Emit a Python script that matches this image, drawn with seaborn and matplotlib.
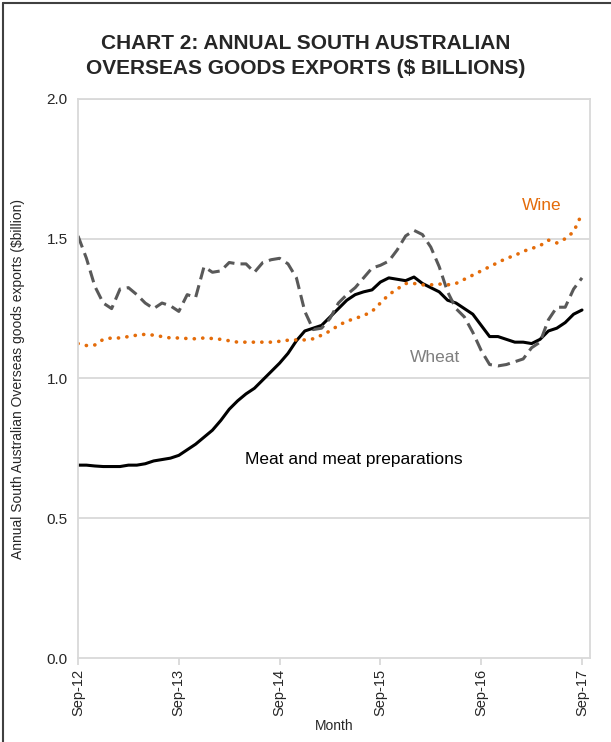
import numpy as np
import pandas as pd
import matplotlib
matplotlib.use("Agg")
import matplotlib.pyplot as plt
import seaborn as sns
from matplotlib.lines import Line2D

# Datos mensuales Sep-12 .. Sep-17 ($ mil millones)
months = pd.date_range("2012-09-01", "2017-09-01", freq="MS")

meat = [0.69, 0.69, 0.687, 0.685, 0.685, 0.685, 0.69, 0.69, 0.695, 0.705,
        0.71, 0.715, 0.725, 0.745, 0.765, 0.79, 0.815, 0.85, 0.89, 0.92,
        0.945, 0.965, 0.995, 1.025, 1.055, 1.09, 1.135, 1.17, 1.18, 1.19,
        1.22, 1.25, 1.28, 1.30, 1.31, 1.317, 1.345, 1.36, 1.355, 1.35,
        1.363, 1.34, 1.325, 1.31, 1.28, 1.27, 1.25, 1.23, 1.19, 1.15,
        1.15, 1.14, 1.13, 1.13, 1.125, 1.14, 1.17, 1.18, 1.20, 1.23, 1.245]

wheat = [1.51, 1.43, 1.33, 1.27, 1.25, 1.32, 1.325, 1.30, 1.27, 1.25,
         1.27, 1.26, 1.24, 1.30, 1.29, 1.40, 1.38, 1.385, 1.415, 1.41,
         1.41, 1.38, 1.415, 1.425, 1.43, 1.41, 1.36, 1.24, 1.175, 1.18,
         1.215, 1.27, 1.30, 1.325, 1.36, 1.395, 1.405, 1.42, 1.46, 1.51,
         1.53, 1.515, 1.47, 1.40, 1.31, 1.25, 1.22, 1.165, 1.10, 1.05,
         1.045, 1.05, 1.06, 1.07, 1.11, 1.13, 1.21, 1.255, 1.255, 1.32, 1.36]

wine = [1.125, 1.118, 1.12, 1.14, 1.145, 1.145, 1.15, 1.155, 1.158, 1.155,
        1.15, 1.145, 1.145, 1.143, 1.142, 1.145, 1.143, 1.14, 1.135, 1.13,
        1.13, 1.13, 1.13, 1.13, 1.133, 1.137, 1.138, 1.138, 1.142, 1.155,
        1.17, 1.19, 1.205, 1.215, 1.225, 1.24, 1.27, 1.30, 1.32, 1.34,
        1.34, 1.335, 1.335, 1.338, 1.335, 1.34, 1.355, 1.37, 1.385, 1.40,
        1.415, 1.43, 1.44, 1.455, 1.465, 1.475, 1.495, 1.485, 1.50, 1.525, 1.59]

tick_labels = ["Sep-12", "Sep-13", "Sep-14", "Sep-15", "Sep-16", "Sep-17"]
y_ticks = [0.0, 0.5, 1.0, 1.5, 2.0]

df = pd.DataFrame({"Month": months, "Meat": meat, "Wheat": wheat, "Wine": wine})
df["i"] = np.arange(len(df))

sns.set_style("white")
plt.rcParams["font.family"] = ["Liberation Sans", "DejaVu Sans"]

fig = plt.figure(figsize=(6.11, 7.42), dpi=100)
ax = fig.add_axes([0.1277, 0.1132, 0.8379, 0.7534])

grid_c = "#d9d9d9"
orange = "#e46c0a"
grey = "#595959"

sns.lineplot(data=df, x="i", y="Meat", ax=ax, color="black", lw=2.2)
sns.lineplot(data=df, x="i", y="Wheat", ax=ax, color=grey, lw=2.2)
ax.lines[-1].set_dashes([4.0, 2.0])
sns.lineplot(data=df, x="i", y="Wine", ax=ax, color=orange, lw=2.6)
ax.lines[-1].set_linestyle((0, (0.05, 2.3)))
ax.lines[-1].set_dash_capstyle("round")

ax.set_xlim(0, 60.95)
ax.set_ylim(0, 2.0)
ax.set_yticks(y_ticks)
ax.set_yticklabels([f"{v:.1f}" for v in y_ticks], fontsize=11)
ax.set_xticks(np.arange(0, 61, 12))
ax.set_xticklabels(tick_labels, rotation=90, fontsize=10.5)
for v in y_ticks[1:]:
    ax.axhline(v, color=grid_c, lw=1.3, zorder=0)
for s in ax.spines.values():
    s.set_color(grid_c)
    s.set_linewidth(1.3)
ax.tick_params(axis="x", which="both", bottom=True, length=5, color=grid_c,
               width=1.3, pad=3)
ax.tick_params(axis="y", left=False, pad=4)

ax.set_xlabel("Month", fontsize=10, labelpad=2)
fig.text(0.030, 0.489, "Annual South Australian Overseas goods exports ($billion)",
         rotation=90, ha="center", va="center", fontsize=10)
ax.set_ylabel("")

fig.text(0.50, 0.9245, "CHART 2: ANNUAL SOUTH AUSTRALIAN\nOVERSEAS GOODS EXPORTS ($ BILLIONS)",
         ha="center", va="center", fontsize=15, fontweight="bold",
         linespacing=1.4)

ax.text(55.2, 1.62, "Wine", color=orange, fontsize=12.5, ha="center", va="center")
ax.text(42.5, 1.075, "Wheat", color="#7f7f7f", fontsize=12.5, ha="center", va="center")
ax.text(32.8, 0.71, "Meat and meat preparations", color="black", fontsize=12.5,
        ha="center", va="center")

# marco de la figura (arriba e izquierda)
fig.add_artist(Line2D([0.005, 0.005], [0, 0.996], color="#404040", lw=1.5,
                      transform=fig.transFigure))
fig.add_artist(Line2D([0.005, 1.0], [0.996, 0.996], color="#404040", lw=1.5,
                      transform=fig.transFigure))

fig.savefig("out.png", dpi=100)
